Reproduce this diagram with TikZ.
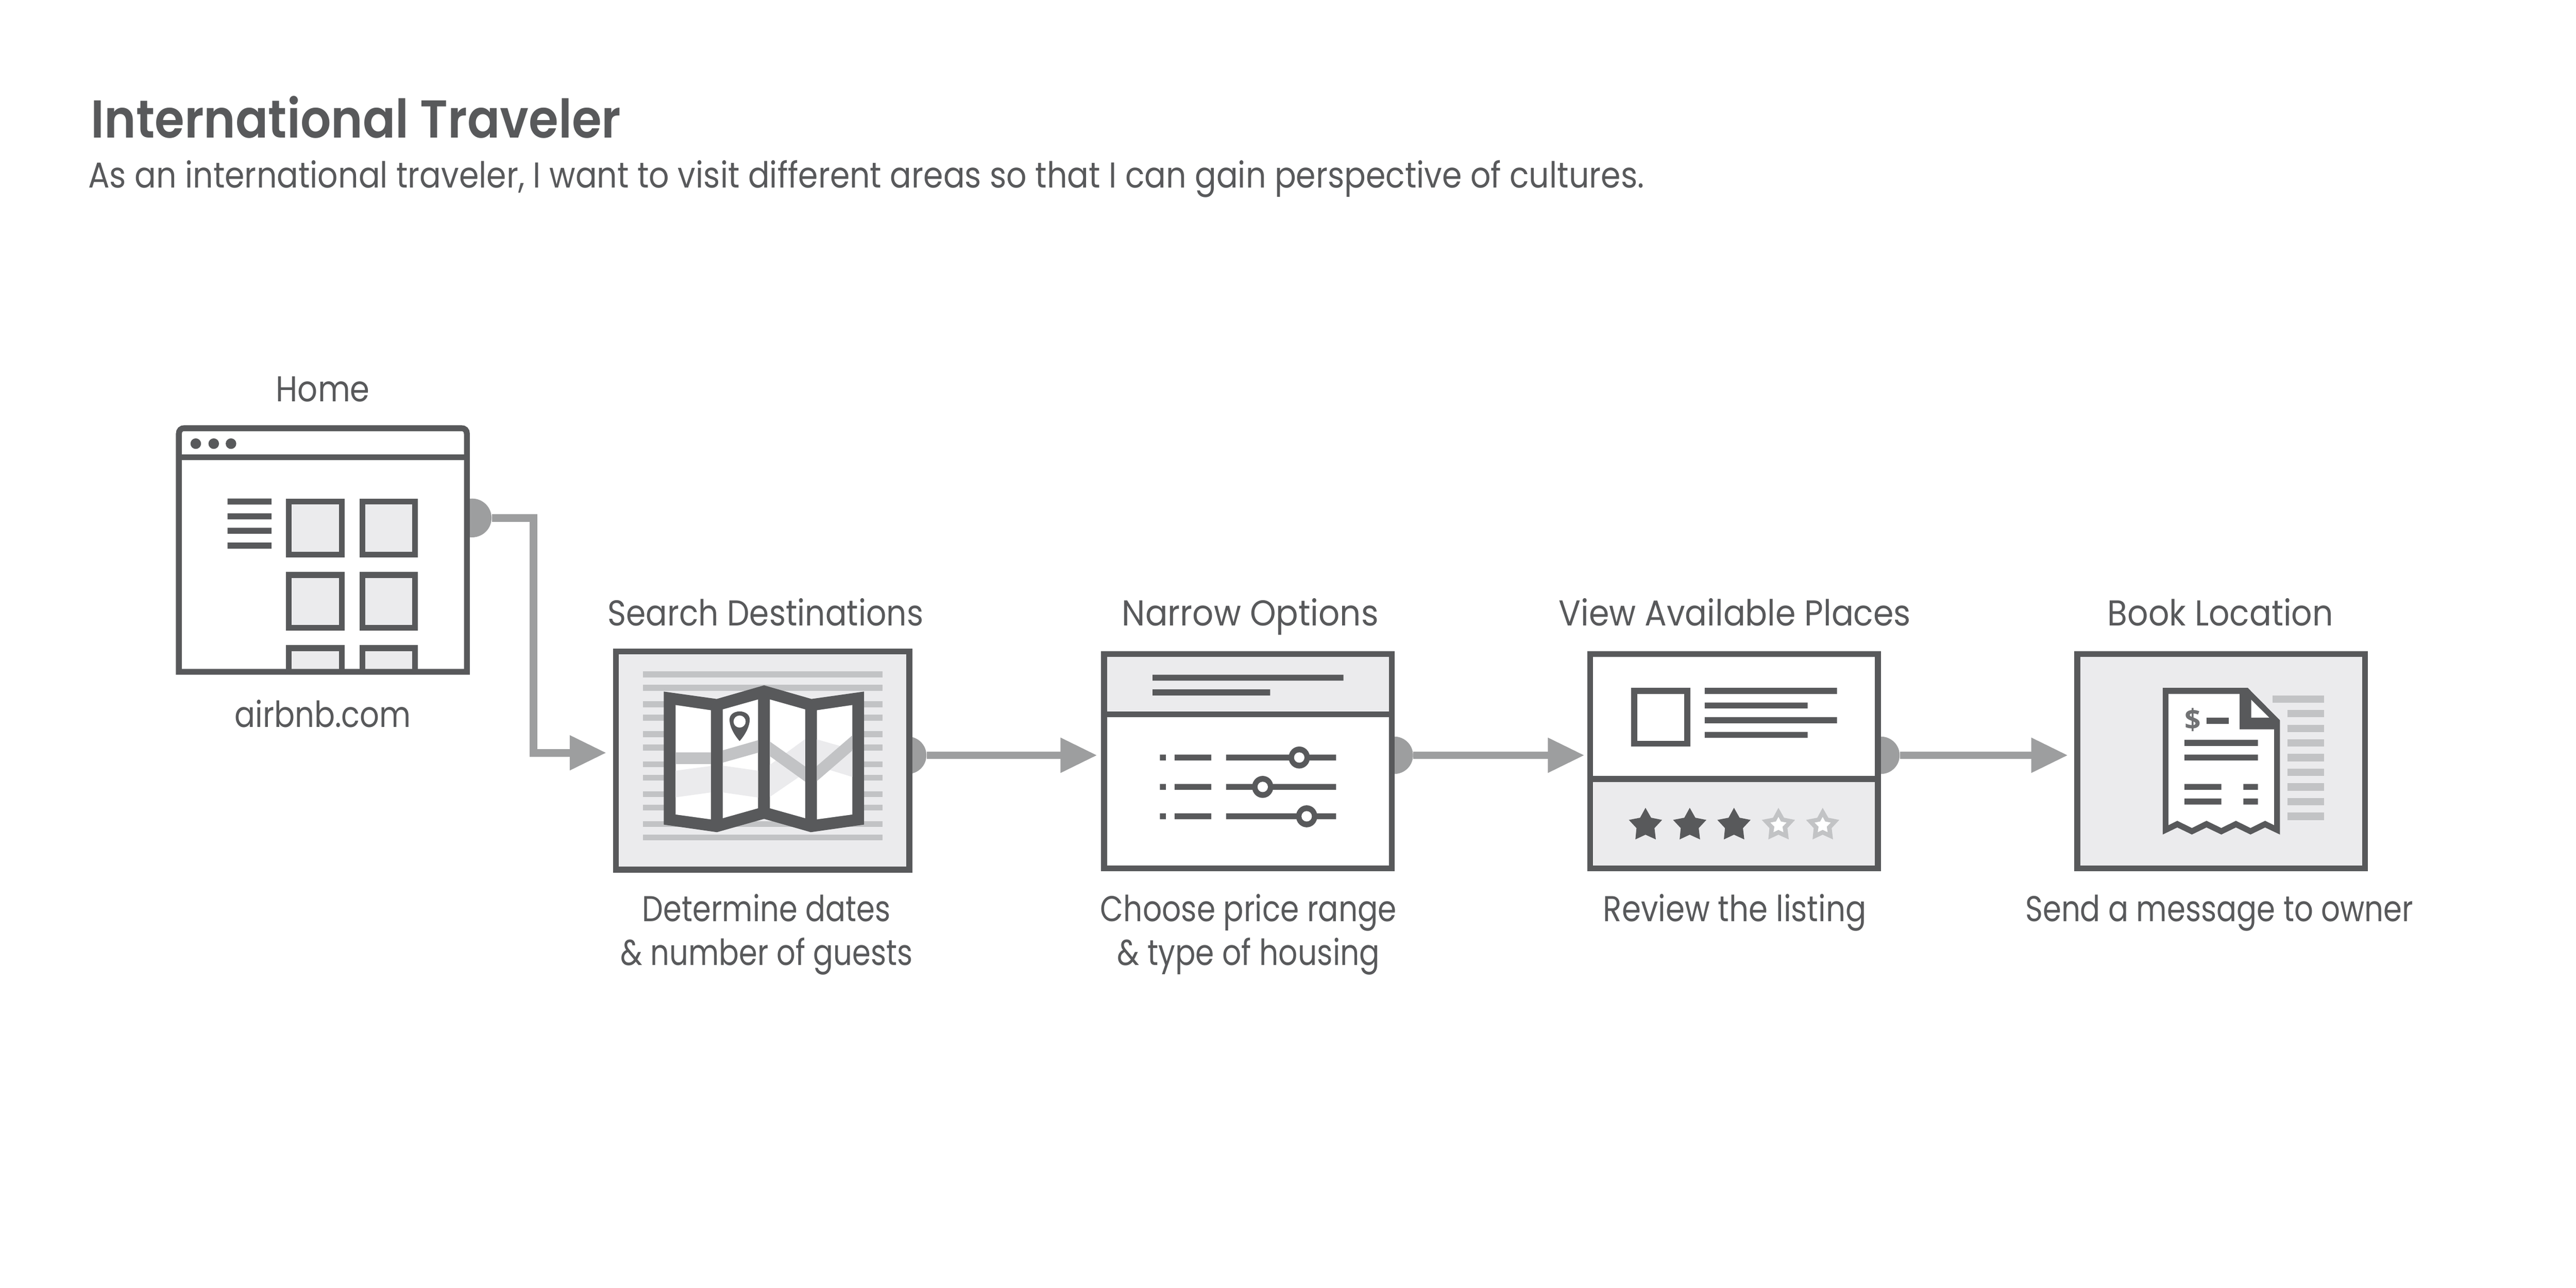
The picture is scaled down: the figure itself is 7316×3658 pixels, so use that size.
\documentclass[tikz,border=0pt]{standalone}
\usepackage{graphicx}
\usepackage{fontspec}
\setmainfont{Poppins}
\newfontfamily\dollarfont{Open Sans}
\newfontfamily\headfont{Poppins SemiBold}
\usetikzlibrary{arrows.meta}
\definecolor{ink}{HTML}{58595B}
\definecolor{pale}{HTML}{EBEBED}
\definecolor{mid}{HTML}{C2C3C5}
\definecolor{link}{HTML}{9D9E9F}
\newcommand\fitw[2]{\resizebox{#1cm}{\height}{#2}}
\newcommand\starp[1]{(#1,1040)--({#1+25},1103)--({#1+74},1117)--({#1+40},1169)--({#1+46},1241)--(#1,1211)--({#1-45},1241)--({#1-40},1169)--({#1-74},1117)--({#1-24},1103)--cycle}
\newcommand\starq[1]{(#1,1098)--({#1+11},1127)--({#1+36},1134)--({#1+18},1160)--({#1+22},1195)--(#1,1180)--({#1-22},1195)--({#1-18},1160)--({#1-36},1134)--({#1-11},1127)--cycle}
\tikzset{
  x=0.01cm,y=-0.01cm,
  label/.style={text=ink,inner sep=0pt,anchor=base,align=center,font=\fontsize{29pt}{35.6pt}\selectfont},
  titlelabel/.style={text=ink,inner sep=0pt,anchor=base west,font=\headfont\fontsize{43pt}{50pt}\selectfont},
  framebox/.style={draw=ink,line width=0.167cm,inner sep=0pt,outer sep=0pt,rectangle},
  portdot/.style={circle,fill=link,inner sep=0pt,minimum size=1.06cm},
  conn/.style={draw=link,line width=0.215cm,-{Triangle[length=1.04cm,width=0.94cm]}},
}
\begin{document}
\begin{tikzpicture}
\useasboundingbox (0,0) rectangle (7316,3658);
\fill[white] (0,0) rectangle (7316,3658);

% heading
\node[titlelabel] (title) at (258,392) {\fitw{15.04}{International Traveler}};
\node[label,anchor=base west] (subtitle) at (250,533) {\fitw{44.16}{As an international traveler, I want to visit different areas so that I can gain perspective of cultures.}};

% ports behind the boxes
\node[portdot,minimum size=1.10cm] (d1) at (1341,1471) {};
\node[portdot] (d2) at (2578,2145) {};
\node[portdot] (d3) at (3960,2145) {};
\node[portdot] (d4) at (5342,2145) {};

% Home window
\node[inner sep=0pt,minimum width=8.34cm,minimum height=7.08cm] (home) at (917,1562) {};
\fill[white] (500,1208) rectangle (1334,1916);
\fill[pale] (820,1424) rectangle (971,1575) (1029,1424) rectangle (1179,1575)
            (820,1633) rectangle (971,1783) (1029,1633) rectangle (1179,1783)
            (820,1841) rectangle (971,1916) (1029,1841) rectangle (1179,1916);
\draw[ink,line width=0.167cm] (820,1424) rectangle (971,1575) (1029,1424) rectangle (1179,1575)
            (820,1633) rectangle (971,1783) (1029,1633) rectangle (1179,1783)
            (820,1916)--(820,1841)--(971,1841)--(971,1916)
            (1029,1916)--(1029,1841)--(1179,1841)--(1179,1916);
\draw[ink,line width=0.167cm] (508,1908) -- (508,1232) .. controls (508,1222) and (514,1216) .. (524,1216)
   -- (1310,1216) .. controls (1320,1216) and (1326,1222) .. (1326,1232) -- (1326,1908) -- cycle;
\draw[ink,line width=0.167cm] (500,1299) -- (1334,1299);
\fill[ink] (556,1260) circle[radius=15] (607,1260) circle[radius=15] (656,1260) circle[radius=15];
\fill[ink] (646,1416) rectangle (771,1433) (646,1458) rectangle (771,1475)
           (646,1499) rectangle (771,1516) (646,1541) rectangle (771,1558);

% Search Destinations
\node[framebox,fill=pale,minimum width=8.327cm,minimum height=6.197cm] (search) at (2166,2160) {};
\foreach \a in {1907,1945,1992,2030,2077,2115,2162,2200,2247,2285,2332,2370}
  \fill[mid] (1826,\a) rectangle (2507,\a+17);
\begin{scope}[shift={(1700,1800)},xscale=0.6378,yscale=0.4783]
  \fill[ink] (290,343)--(526,387)--(737,306)--(948,387)--(1182,343)--(1182,1133)--(945,1178)--(737,1099)--(527,1178)--(290,1133)--cycle;
  \fill[white] (343,423)--(500,454)--(500,1102)--(343,1073)--cycle
               (553,449)--(710,390)--(710,1036)--(553,1095)--cycle
               (763,390)--(920,449)--(920,1095)--(763,1036)--cycle
               (972,454)--(1130,423)--(1130,1073)--(972,1102)--cycle;
  \fill[pale] (343,813)--(500,785)--(500,942)--(343,971)--cycle
              (553,783)--(710,813)--(710,972)--(553,942)--cycle
              (763,778)--(920,625)--(920,825)--(763,968)--cycle
              (972,627)--(1130,687)--(1130,850)--(972,785)--cycle;
  \fill[mid] (343,704)--(500,704)--(500,774)--(343,774)--cycle
             (553,692)--(710,632)--(710,706)--(553,765)--cycle
             (763,640)--(920,788)--(920,878)--(763,727)--cycle
             (972,785)--(1130,603)--(1130,693)--(972,875)--cycle;
  \fill[ink] (628,637) .. controls (600,595) and (583,545) .. (583,510)
             .. controls (583,480) and (603,461) .. (628,461)
             .. controls (653,461) and (673,480) .. (673,510)
             .. controls (673,545) and (656,595) .. (628,637) -- cycle;
  \fill[white] (628,521) ellipse[x radius=27,y radius=36];
\end{scope}

% Narrow Options
\node[framebox,fill=white,minimum width=8.166cm,minimum height=6.083cm] (narrow) at (3544,2162) {};
\begin{scope}[shift={(3100,1830)},xscale=0.7015,yscale=0.4464]
  \fill[pale] (63,81) rectangle (1204,427);
  \fill[ink] (39,427) rectangle (1227,464);
  \fill[ink] (247,193) rectangle (1020,231) (247,287) rectangle (723,325);
  \foreach \r/\k in {701/841,888/693,1075/871}{
    \fill[ink] (277,\r) rectangle (301,\r+38) (336,\r) rectangle (485,\r+38) (545,\r) rectangle (990,\r+38);
    \fill[ink] (\k,\r+19) ellipse[x radius=43,y radius=70];
    \fill[white] (\k,\r+19) ellipse[x radius=21,y radius=33];
  }
\end{scope}

% View Available Places
\node[framebox,fill=white,minimum width=8.167cm,minimum height=6.083cm] (view) at (4925,2162) {};
\begin{scope}[shift={(4480,1830)},xscale=0.6378,yscale=0.4464]
  \fill[pale] (71,875) rectangle (1325,1407);
  \fill[ink] (44,838) rectangle (1351,875);
  \fill[ink] (240,277) rectangle (502,651);
  \fill[white] (267,315) rectangle (476,614);
  \fill[ink] (567,277) rectangle (1156,315) (567,370) rectangle (1025,408)
             (567,464) rectangle (1156,502) (567,557) rectangle (1025,595);
  \foreach \c in {303,500,697} \fill[ink] \starp{\c};
  \foreach \c in {895,1092} {\fill[mid] \starp{\c}; \fill[white] \starq{\c};}
\end{scope}

% Book Location
\node[framebox,fill=pale,minimum width=8.167cm,minimum height=6.083cm] (book) at (6308,2162) {};
\begin{scope}[shift={(5880,1830)},xscale=0.6378,yscale=0.4464]
  \fill[mid] (900,324) rectangle (1129,371);
  \foreach \a in {417,511,604,697,791,884,977,1071} \fill[mid] (966,\a) rectangle (1129,\a+47);
  \fill[ink] (411,277)--(790,277)--(933,483)--(933,1210)--(867,1165)--(802,1210)--(737,1165)--(672,1210)--(606,1165)--(541,1210)--(476,1165)--(411,1210)--cycle;
  \fill[white] (437,315)--(753,315)--(753,541)--(907,541)--(907,1150)--(867,1122)--(802,1168)--(737,1122)--(672,1168)--(606,1122)--(541,1168)--(476,1122)--(437,1150)--cycle;
  \fill[white] (805,352)--(885,466)--(805,466)--cycle;
  \node[inner sep=0pt,text=ink!85!white,font=\dollarfont\fontsize{23pt}{23pt}\selectfont\bfseries] (dollar) at (546,480) {\$};
  \fill[ink] (606,467) rectangle (705,506) (508,608) rectangle (835,646) (508,701) rectangle (835,739)
             (508,888) rectangle (672,926) (770,888) rectangle (835,926)
             (508,981) rectangle (672,1019) (770,981) rectangle (835,1019);
\end{scope}

% connectors
\coordinate (bend1) at (1515,2138);
\coordinate (t1) at (1722,2138);
\coordinate (t2) at (3116,2145);
\coordinate (t3) at (4500,2145);
\coordinate (t4) at (5873,2145);
\draw[conn] (d1.east) -| (bend1) -- (t1);
\draw[conn] (d2.east) -- (t2);
\draw[conn] (d3.east) -- (t3);
\draw[conn] (d4.east) -- (t4);

% labels
\node[label] (l1) at (917,1141) {\fitw{2.66}{Home}};
\node[label] (l2) at (917,2065) {\fitw{5.0}{airbnb.com}};
\node[label] (l3) at (2174,1777) {\fitw{8.96}{Search Destinations}};
\node[label] (l4) at (3551,1777) {\fitw{7.28}{Narrow Options}};
\node[label] (l5) at (4927,1777) {\fitw{9.99}{View Available Places}};
\node[label] (l6) at (6306,1777) {\fitw{6.4}{Book Location}};
\node[label] (c1) at (2177,2742) {\fitw{7.05}{Determine dates}\\\fitw{8.29}{\& number of guests}};
\node[label] (c2) at (3546,2742) {\fitw{8.41}{Choose price range}\\\fitw{7.45}{\& type of housing}};
\node[label] (c3) at (4927,2617) {\fitw{7.47}{Review the listing}};
\node[label] (c4) at (6303,2617) {\fitw{11.01}{Send a message to owner}};
\end{tikzpicture}
\end{document}
